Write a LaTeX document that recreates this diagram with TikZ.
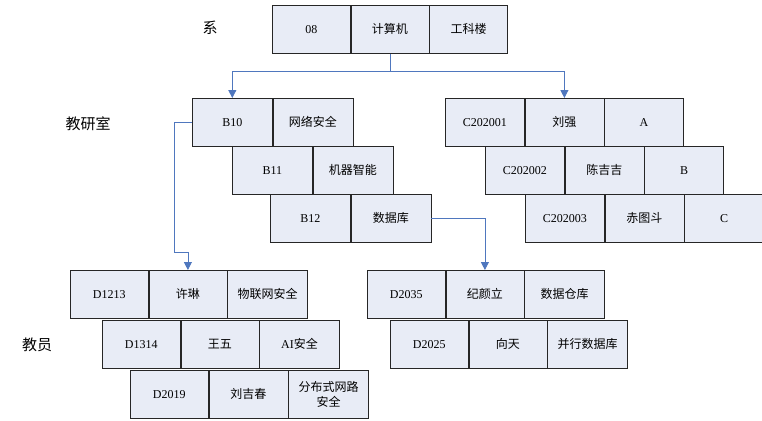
\documentclass[tikz,border=0pt]{standalone}
\usepackage{fontspec}
\setmainfont{Liberation Serif}
\newfontfamily\cjk{Noto Sans CJK SC}
\usepackage{tikz}
\usetikzlibrary{positioning}
\usetikzlibrary{arrows.meta}
\definecolor{cellfill}{RGB}{232, 236, 246}
\definecolor{linkblue}{RGB}{79, 119, 190}
\newcommand{\zh}[1]{{\cjk #1}}

\tikzset{
  cell/.style={draw=black!85, line width=0.6pt, fill=cellfill, minimum width=79pt,
               minimum height=48pt, inner sep=1pt, align=center,
               font=\fontsize{12}{15}\selectfont},
  widecell/.style={cell, minimum width=80pt},
  link/.style={draw=linkblue, line width=0.8pt},
  tip/.style={-{Triangle[length=8pt,width=8pt]}},
  level/.style={font=\fontsize{15}{18}\selectfont}
}

\begin{document}
\begin{tikzpicture}[x=1pt,y=-1pt]
\useasboundingbox (0,0) rectangle (762,420);

% level labels
\node[level] (lxi)  at (210,28)  {\zh{系}};
\node[level] (ljys) at (88,124)  {\zh{教研室}};
\node[level] (ljy)  at (37,345)  {\zh{教员}};

% department
\node[cell, minimum width=78pt, anchor=north west] (x08) at (272,5) {08};
\node[cell, minimum width=78pt, right=0pt of x08] (xjsj) {\zh{计算机}};
\node[cell, minimum width=78pt, right=0pt of xjsj] (xgkl) {\zh{工科楼}};

% teaching rooms B
\node[widecell, anchor=north west] (b10) at (192,98) {B10};
\node[widecell, right=0pt of b10] (b10n) {\zh{网络安全}};
\node[widecell, anchor=north west] (b11) at (232,146) {B11};
\node[widecell, right=0pt of b11] (b11n) {\zh{机器智能}};
\node[widecell, anchor=north west] (b12) at (270,194) {B12};
\node[widecell, right=0pt of b12] (b12n) {\zh{数据库}};

% teaching rooms C
\node[cell, anchor=north west] (c1) at (445,98) {C202001};
\node[cell, right=0pt of c1] (c1n) {\zh{刘强}};
\node[cell, right=0pt of c1n] (c1x) {A};
\node[cell, anchor=north west] (c2) at (485,146) {C202002};
\node[cell, right=0pt of c2] (c2n) {\zh{陈吉吉}};
\node[cell, right=0pt of c2n] (c2x) {B};
\node[cell, anchor=north west] (c3) at (525,194) {C202003};
\node[cell, right=0pt of c3] (c3n) {\zh{赤图斗}};
\node[cell, right=0pt of c3n] (c3x) {C};

% teachers left
\node[cell, minimum width=78pt, anchor=north west] (d1213) at (70,270) {D1213};
\node[cell, minimum width=78pt, right=0pt of d1213] (d1213n) {\zh{许琳}};
\node[widecell, right=0pt of d1213n] (d1213x) {\zh{物联网安全}};
\node[cell, minimum width=78pt, anchor=north west] (d1314) at (102,320) {D1314};
\node[cell, minimum width=78pt, right=0pt of d1314] (d1314n) {\zh{王五}};
\node[widecell, right=0pt of d1314n] (d1314x) {AI\zh{安全}};
\node[cell, minimum width=78pt, anchor=north west] (d2019) at (130,370) {D2019};
\node[cell, minimum width=79pt, right=0pt of d2019] (d2019n) {\zh{刘吉春}};
\node[widecell, right=0pt of d2019n] (d2019x) {\zh{分布式网路}\\\zh{安全}};

% teachers right
\node[cell, minimum width=78pt, anchor=north west] (d2035) at (367,270) {D2035};
\node[cell, minimum width=78pt, right=0pt of d2035] (d2035n) {\zh{纪颜立}};
\node[widecell, right=0pt of d2035n] (d2035x) {\zh{数据仓库}};
\node[cell, minimum width=78pt, anchor=north west] (d2025) at (390,320) {D2025};
\node[cell, minimum width=78pt, right=0pt of d2025] (d2025n) {\zh{向天}};
\node[widecell, right=0pt of d2025n] (d2025x) {\zh{并行数据库}};

% connectors
\draw[link] (xjsj.south) -- ++(0,18) coordinate (split);
\draw[link, tip] (split) -| (b10.north);
\draw[link, tip] (split) -| (c1n.north);
\draw[link, tip] (b10.west) -- ++(-18,0) -- ++(0,130) -| (d1213n.north);
\draw[link, tip] (b12n.east) -| (d2035n.north);
\end{tikzpicture}
\end{document}
